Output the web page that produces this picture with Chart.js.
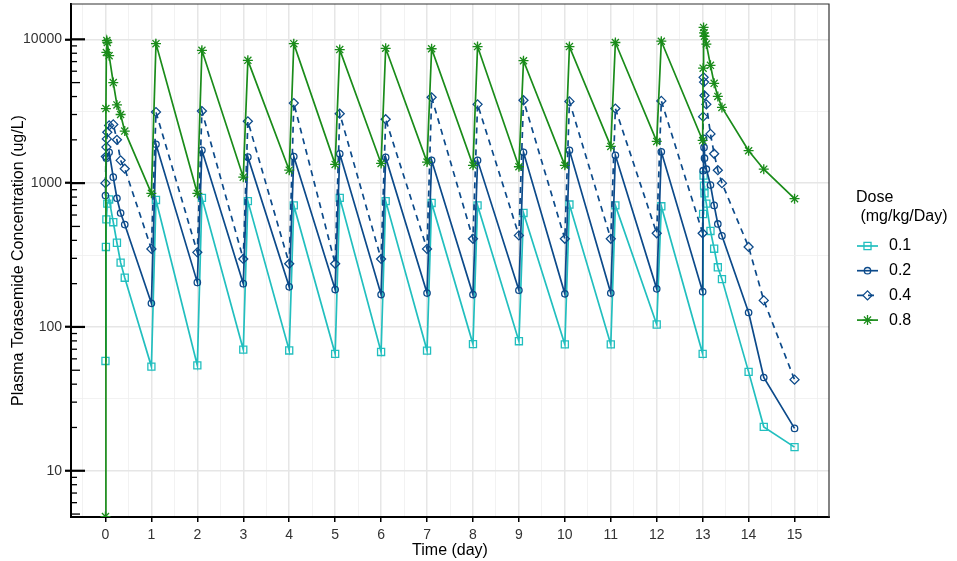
<!DOCTYPE html>
<html>
<head>
<meta charset="utf-8">
<title>Plasma Torasemide Concentration</title>
<script src="https://cdn.jsdelivr.net/npm/chart.js@4.4.1/dist/chart.umd.min.js"></script>
<style>
  html, body { margin: 0; padding: 0; background: #fff; }
</style>
</head>
<body>
<canvas id="canvas" width="957" height="561"></canvas>
<script>
// dose groups (mg/kg/Day)
const doseLabels = ['0.1', '0.2', '0.4', '0.8'];
const legendTitle = ['Dose', ' (mg/kg/Day)'];

// sampling times (day) and concentrations (ug/L)
const time01 = [0, 0.01, 0.02, 0.04, 0.08, 0.17, 0.25, 0.33, 0.42,
  1, 1.1, 2, 2.1, 3, 3.1, 4, 4.1, 5, 5.1, 6, 6.1, 7, 7.1, 8, 8.1, 9, 9.1, 10, 10.1, 11, 11.1, 12, 12.1,
  13, 13.01, 13.02, 13.03, 13.04, 13.08, 13.17, 13.25, 13.33, 13.42, 14, 14.33, 15];
const conc01 = [58, 360, 560, 720, 770, 535, 385, 280, 220,
  53, 764, 54, 790, 69.6, 750, 68.6, 700, 65, 790, 67, 750, 68.5, 728, 76, 700, 79.6, 620, 75.6, 710, 75.6, 700, 104, 690,
  65, 610, 1130, 960, 850, 720, 465, 350, 260, 215, 48.7, 20.2, 14.6];

const time02 = [0, 0.02, 0.08, 0.17, 0.25, 0.33, 0.42,
  1, 1.1, 2, 2.1, 3, 3.1, 4, 4.1, 5, 5.1, 6, 6.1, 7, 7.1, 8, 8.1, 9, 9.1, 10, 10.1, 11, 11.1, 12, 12.1,
  13, 13.01, 13.02, 13.03, 13.04, 13.08, 13.17, 13.25, 13.33, 13.42, 14, 14.33, 15];
const conc02 = [820, 1490, 1640, 1100, 785, 620, 515,
  146, 1860, 204, 1690, 200, 1520, 190, 1530, 182, 1600, 168, 1510, 172, 1440, 168, 1440, 180, 1640, 170, 1690, 172, 1560, 184, 1650,
  176, 1220, 2050, 1770, 1490, 1250, 970, 700, 520, 430, 126, 44.5, 19.7];

const time04 = [0, 0.01, 0.02, 0.03, 0.04, 0.08, 0.17, 0.25, 0.33, 0.42,
  1, 1.1, 2, 2.1, 3, 3.1, 4, 4.1, 5, 5.1, 6, 6.1, 7, 7.1, 8, 8.1, 9, 9.1, 10, 10.1, 11, 11.1, 12, 12.1,
  13, 13.01, 13.02, 13.03, 13.04, 13.08, 13.17, 13.25, 13.33, 13.42, 14, 14.33, 15];
const conc04 = [1000, 1530, 1780, 2030, 2260, 2520, 2560, 2000, 1440, 1260,
  349, 3120, 330, 3170, 297, 2690, 275, 3600, 275, 3040, 297, 2780, 349, 3950, 410, 3530, 433, 3770, 410, 3700, 410, 3300, 448, 3730,
  448, 2900, 5440, 5040, 4070, 3530, 2200, 1600, 1230, 1000, 360, 153, 43];

const time08 = [0, 0.01, 0.02, 0.03, 0.04, 0.08, 0.17, 0.25, 0.33, 0.42,
  1, 1.1, 2, 2.1, 3, 3.1, 4, 4.1, 5, 5.1, 6, 6.1, 7, 7.1, 8, 8.1, 9, 9.1, 10, 10.1, 11, 11.1, 12, 12.1,
  13, 13.01, 13.02, 13.03, 13.04, 13.08, 13.17, 13.25, 13.33, 13.42, 14, 14.33, 15];
const conc08 = [4.8, 3300, 8100, 9800, 9500, 7700, 5000, 3500, 3000, 2300,
  850, 9330, 850, 8380, 1100, 7140, 1230, 9330, 1350, 8480, 1370, 8660, 1400, 8600, 1330, 8900, 1300, 7100, 1330, 8900, 1800, 9500, 1950, 9700,
  1980, 6300, 12100, 11100, 10500, 9270, 6590, 4940, 4010, 3360, 1680, 1250, 780];

// axis ticks
const xMajorTicks = [0, 1, 2, 3, 4, 5, 6, 7, 8, 9, 10, 11, 12, 13, 14, 15];
const yMajorTicks = [10, 100, 1000, 10000];

const cyan = '#22bfbf';
const navy = '#0c4a8a';
const green = '#1a8c1a';
const FONT = '"Liberation Sans", Arial, Helvetica, sans-serif';

function pairs(xs, ys) {
  return xs.map((x, i) => ({ x: x, y: ys[i] }));
}

function series(label, xs, ys, color, style, radius, order, dash) {
  return {
    label: label,
    data: pairs(xs, ys),
    borderColor: color,
    borderWidth: 1.7,
    borderDash: dash || [],
    pointStyle: style,
    pointRadius: radius,
    pointHoverRadius: radius,
    pointBorderWidth: 1.3,
    pointBorderColor: color,
    pointBackgroundColor: 'rgba(0,0,0,0)',
    tension: 0,
    order: order
  };
}

const datasets = [
  series(doseLabels[0], time01, conc01, cyan, 'rect', 5, 4),
  series(doseLabels[1], time02, conc02, navy, 'circle', 3.2, 3),
  series(doseLabels[2], time04, conc04, navy, 'rectRot', 4.5, 2, [6, 5]),
  series(doseLabels[3], time08, conc08, green, 'star', 5, 1)
];

// x ticks every half day, only whole days labelled
const xAllTicks = [];
xMajorTicks.forEach(v => { xAllTicks.push(v - 0.5, v); });
xAllTicks.push(15.5);

// y grid at decades and half decades
const yAllTicks = [];
yMajorTicks.forEach(v => { yAllTicks.push(v, v * Math.sqrt(10)); });

const isMajorX = v => xMajorTicks.includes(v);
const isMajorY = v => yMajorTicks.includes(v);

// log ticks along the inside of the y axis, and the top/right panel border
const panelExtras = {
  id: 'panelExtras',
  afterDatasetsDraw(chart) {
    const { ctx, chartArea: a } = chart;
    const y = chart.scales.y;
    ctx.save();
    ctx.strokeStyle = '#000';
    for (let e = 0; e <= 4; e++) {
      for (let k = 1; k <= 9; k++) {
        const v = k * Math.pow(10, e);
        if (v < y.min || v > y.max) continue;
        const py = y.getPixelForValue(v);
        const len = k === 1 ? 14 : (k === 5 ? 9 : 6);
        ctx.lineWidth = k === 1 ? 2.2 : 1.3;
        ctx.beginPath();
        ctx.moveTo(a.left, py);
        ctx.lineTo(a.left + len, py);
        ctx.stroke();
      }
    }
    ctx.strokeStyle = '#333';
    ctx.lineWidth = 1.2;
    ctx.beginPath();
    ctx.moveTo(a.left, a.top);
    ctx.lineTo(a.right, a.top);
    ctx.lineTo(a.right, a.bottom);
    ctx.stroke();
    ctx.restore();
  }
};

// ggplot-like legend on the right
const doseLegend = {
  id: 'doseLegend',
  afterDraw(chart) {
    const ctx = chart.ctx;
    ctx.save();
    ctx.font = '16px ' + FONT;
    ctx.fillStyle = '#000';
    ctx.textBaseline = 'middle';
    ctx.textAlign = 'left';
    ctx.fillText(legendTitle[0], 856, 198);
    ctx.fillText(legendTitle[1], 856, 217);
    chart.data.datasets.forEach((ds, i) => {
      const yy = 246 + i * 24.7;
      ctx.strokeStyle = ds.borderColor;
      ctx.lineWidth = ds.borderWidth;
      ctx.setLineDash(ds.borderDash);
      ctx.beginPath();
      ctx.moveTo(857, yy);
      ctx.lineTo(878, yy);
      ctx.stroke();
      ctx.setLineDash([]);
      ctx.lineWidth = ds.pointBorderWidth;
      ctx.fillStyle = 'rgba(0,0,0,0)';
      Chart.helpers.drawPoint(ctx, {
        pointStyle: ds.pointStyle,
        radius: ds.pointRadius,
        borderWidth: ds.pointBorderWidth,
        rotation: 0
      }, 867.5, yy);
      ctx.fillStyle = '#000';
      ctx.fillText(ds.label, 889, yy);
    });
    ctx.restore();
  }
};

const config = {
  type: 'line',
  data: { datasets: datasets },
  options: {
    responsive: false,
    animation: false,
    layout: { autoPadding: false, padding: { left: 0, right: 128, top: 4, bottom: 0 } },
    plugins: {
      legend: { display: false },
      tooltip: { enabled: false }
    },
    scales: {
      x: {
        type: 'linear',
        min: -0.75,
        max: 15.75,
        afterBuildTicks: scale => { scale.ticks = xAllTicks.map(v => ({ value: v })); },
        afterFit: scale => {
          scale.height = 44;
          scale.paddingLeft = 0;
          scale.paddingRight = 0;
        },
        ticks: {
          autoSkip: false,
          maxRotation: 0,
          padding: 5,
          color: '#333',
          font: { size: 14, family: FONT },
          callback: v => (isMajorX(v) ? String(v) : '')
        },
        grid: {
          color: ctx => (isMajorX(ctx.tick.value) ? '#e6e6e6' : '#efefef'),
          lineWidth: ctx => (isMajorX(ctx.tick.value) ? 1.5 : 0.8),
          tickColor: ctx => (isMajorX(ctx.tick.value) ? '#000' : 'rgba(0,0,0,0)'),
          tickLength: 5,
          tickWidth: 1.5
        },
        border: { display: true, color: '#000', width: 2 },
        title: {
          display: true,
          text: 'Time (day)',
          color: '#000',
          font: { size: 16, family: FONT },
          padding: { top: 2, bottom: 1 }
        }
      },
      y: {
        type: 'logarithmic',
        min: 4.77,
        max: 17600,
        afterBuildTicks: scale => {
          scale.ticks = yAllTicks.filter(v => v <= scale.max).map(v => ({ value: v }));
        },
        afterFit: scale => {
          scale.width = 71;
          scale.paddingTop = 0;
          scale.paddingBottom = 0;
        },
        ticks: {
          autoSkip: false,
          padding: 3,
          color: '#333',
          font: { size: 14, family: FONT },
          callback: v => (isMajorY(v) ? String(v) : '')
        },
        grid: {
          color: ctx => (isMajorY(ctx.tick.value) ? '#e6e6e6' : '#efefef'),
          lineWidth: ctx => (isMajorY(ctx.tick.value) ? 1.5 : 0.8),
          tickColor: ctx => (isMajorY(ctx.tick.value) ? '#000' : 'rgba(0,0,0,0)'),
          tickLength: 6,
          tickWidth: 2.2
        },
        border: { display: true, color: '#000', width: 2 },
        title: {
          display: true,
          text: 'Plasma Torasemide Concentration (ug/L)',
          color: '#000',
          font: { size: 16, family: FONT },
          padding: { top: 9, bottom: 2 }
        }
      }
    }
  },
  plugins: [panelExtras, doseLegend]
};

const canvas = document.getElementById('canvas');
const chart = new Chart(canvas, config);
</script>
</body>
</html>
